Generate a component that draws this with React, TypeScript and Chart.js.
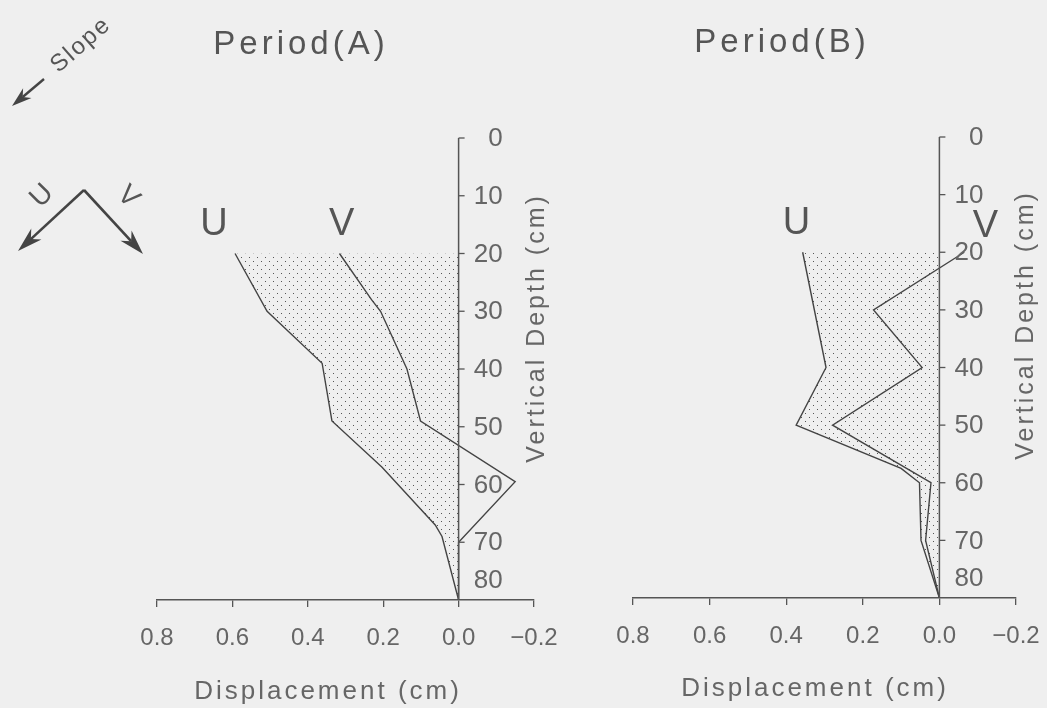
import React, { useEffect, useRef } from 'react';
import { Chart, registerables } from 'chart.js';

Chart.register(...registerables);

// ---------- data ----------
const depthTicks = [0, 10, 20, 30, 40, 50, 60, 70, 80];
const dispTicks = [0.8, 0.6, 0.4, 0.2, 0.0, -0.2];

// Period (A)
const uDepthA = [20, 30, 39, 49, 57, 67, 69, 80];
const uDispA = [0.593, 0.508, 0.362, 0.336, 0.203, 0.062, 0.044, 0];
const vDepthA = [20, 28, 30, 40, 49, 59.5, 70, 80];
const vDispA = [0.316, 0.231, 0.207, 0.137, 0.101, -0.15, 0, 0];

// Period (B)
const uDepthB = [20, 40, 50, 57.5, 60, 70, 80];
const uDispB = [0.357, 0.296, 0.374, 0.1, 0.052, 0.048, 0];
const vDepthB = [20, 30, 40, 50, 60, 70, 80];
const vDispB = [-0.065, 0.172, 0.045, 0.279, 0.022, 0.036, 0];

const W = 1047;
const H = 708;
const FONT = '"Liberation Sans", Arial, sans-serif';
const INK = '#444';
const TXT = '#666';

interface Panel {
  title: string;
  uDepth: number[];
  uDisp: number[];
  vDepth: number[];
  vDisp: number[];
  area: { left: number; right: number; top: number; bottom: number };
  titleX: number;
  titleY: number;
  xTitleX: number;
  xTitleY: number;
  yTitleDx: number;
  yTitleY: number;
  uLabel: { v: number; d: number };
  vLabel: { v: number; d: number };
  slope: boolean;
}

const panels: Panel[] = [
  {
    title: 'Period(A)',
    uDepth: uDepthA, uDisp: uDispA, vDepth: vDepthA, vDisp: vDispA,
    area: { left: 157, right: 534, top: 138, bottom: 600 },
    titleX: 301, titleY: 45,
    xTitleX: 328, xTitleY: 692,
    yTitleDx: 79, yTitleY: 328,
    uLabel: { v: 0.649, d: 15 },
    vLabel: { v: 0.31, d: 15 },
    slope: true,
  },
  {
    title: 'Period(B)',
    uDepth: uDepthB, uDisp: uDispB, vDepth: vDepthB, vDisp: vDispB,
    area: { left: 633, right: 1016, top: 137, bottom: 598 },
    titleX: 782, titleY: 43,
    xTitleX: 815, xTitleY: 689,
    yTitleDx: 87, yTitleY: 325,
    uLabel: { v: 0.373, d: 15 },
    vLabel: { v: -0.12, d: 15.5 },
    slope: false,
  },
];

function makeStipple(): CanvasPattern | string {
  const c = document.createElement('canvas');
  c.width = 8;
  c.height = 8;
  const g = c.getContext('2d');
  if (!g) return 'rgba(0,0,0,0.1)';
  g.fillStyle = '#555';
  g.fillRect(1, 1, 1, 1);
  g.fillRect(5, 5, 1, 1);
  return g.createPattern(c, 'repeat') || 'rgba(0,0,0,0.1)';
}

function drawArrow(ctx: CanvasRenderingContext2D, x1: number, y1: number, x2: number, y2: number, head: number, hw: number, lw: number) {
  const ang = Math.atan2(y2 - y1, x2 - x1);
  const bx = x2 - head * Math.cos(ang);
  const by = y2 - head * Math.sin(ang);
  ctx.beginPath();
  ctx.moveTo(x1, y1);
  ctx.lineTo(bx + head * 0.3 * Math.cos(ang), by + head * 0.3 * Math.sin(ang));
  ctx.lineWidth = lw;
  ctx.strokeStyle = INK;
  ctx.stroke();
  ctx.beginPath();
  ctx.moveTo(x2, y2);
  ctx.lineTo(bx + (hw / 2) * Math.sin(ang), by - (hw / 2) * Math.cos(ang));
  ctx.lineTo(bx + head * 0.3 * Math.cos(ang), by + head * 0.3 * Math.sin(ang));
  ctx.lineTo(bx - (hw / 2) * Math.sin(ang), by + (hw / 2) * Math.cos(ang));
  ctx.closePath();
  ctx.fillStyle = INK;
  ctx.fill();
}

function rotText(ctx: CanvasRenderingContext2D, s: string, x: number, y: number, ang: number, font: string, spacing: string) {
  ctx.save();
  ctx.translate(x, y);
  ctx.rotate(ang);
  ctx.font = font;
  (ctx as any).letterSpacing = spacing;
  ctx.textAlign = 'center';
  ctx.textBaseline = 'middle';
  ctx.fillText(s, 0, 0);
  ctx.restore();
}

function panelPlugin(p: Panel) {
  return {
    id: 'panelText',
    afterDraw(chart: Chart) {
      const ctx = chart.ctx;
      const xs = chart.scales.x;
      const ys = chart.scales.y;
      const x0 = xs.getPixelForValue(0);
      const yTop = ys.getPixelForValue(0);
      const yBot = ys.getPixelForValue(80);
      ctx.save();
      // vertical axis at displacement 0
      ctx.strokeStyle = '#555';
      ctx.lineWidth = 1.5;
      ctx.beginPath();
      ctx.moveTo(x0, yTop);
      ctx.lineTo(x0, yBot);
      ctx.stroke();
      ctx.lineWidth = 1.3;
      ctx.fillStyle = TXT;
      ctx.font = `26px ${FONT}`;
      ctx.textAlign = 'right';
      ctx.textBaseline = 'middle';
      depthTicks.forEach((d) => {
        const py = ys.getPixelForValue(d);
        if (d < 80) {
          ctx.beginPath();
          ctx.moveTo(x0, py);
          ctx.lineTo(x0 + 6, py);
          ctx.stroke();
        }
        ctx.fillText(String(d), x0 + 44, Math.min(py + 1, yBot - 19));
      });
      // axis titles
      ctx.fillStyle = TXT;
      rotText(ctx, 'Vertical Depth (cm)', x0 + p.yTitleDx, p.yTitleY, -Math.PI / 2, `25px ${FONT}`, '3px');
      rotText(ctx, 'Displacement (cm)', p.xTitleX, p.xTitleY, 0, `26px ${FONT}`, '3px');
      // panel title
      ctx.fillStyle = '#555';
      rotText(ctx, p.title, p.titleX, p.titleY, 0, `33px ${FONT}`, '4px');
      // U / V labels
      rotText(ctx, 'U', xs.getPixelForValue(p.uLabel.v), ys.getPixelForValue(p.uLabel.d), 0, `38px ${FONT}`, '0px');
      rotText(ctx, 'V', xs.getPixelForValue(p.vLabel.v), ys.getPixelForValue(p.vLabel.d), 0, `38px ${FONT}`, '0px');
      if (p.slope) {
        ctx.fillStyle = '#555';
        rotText(ctx, 'Slope', 81, 45, -0.72, `24px ${FONT}`, '2px');
        drawArrow(ctx, 44, 79, 12, 106, 20, 13, 2.4);
        drawArrow(ctx, 84, 190, 18, 251, 25, 15, 2.6);
        drawArrow(ctx, 84, 190, 143, 254, 25, 15, 2.6);
        ctx.fillStyle = '#555';
        rotText(ctx, 'U', 42, 196, -Math.PI / 4, `28px ${FONT}`, '0px');
        rotText(ctx, 'V', 128, 197, Math.PI / 4, `28px ${FONT}`, '0px');
      }
      ctx.restore();
    },
  };
}

function PanelChart({ p }: { p: Panel }) {
  const ref = useRef<HTMLCanvasElement | null>(null);
  useEffect(() => {
    if (!ref.current) return;
    const stipple = makeStipple();
    const chart = new Chart(ref.current, {
      type: 'line',
      data: {
        datasets: [
          {
            label: 'U',
            data: p.uDepth.map((d, i) => ({ x: p.uDisp[i], y: d })),
            borderColor: INK,
            borderWidth: 1.4,
            pointRadius: 0,
            tension: 0,
            fill: { value: 0 },
            backgroundColor: stipple as any,
          },
          {
            label: 'V',
            data: p.vDepth.map((d, i) => ({ x: p.vDisp[i], y: d })),
            borderColor: INK,
            borderWidth: 1.4,
            pointRadius: 0,
            tension: 0,
            fill: false,
          },
        ],
      },
      options: {
        animation: false,
        responsive: false,
        indexAxis: 'y',
        events: [],
        layout: {
          padding: {
            left: p.area.left,
            right: W - p.area.right,
            top: p.area.top,
            bottom: H - p.area.bottom - 50,
          },
        },
        scales: {
          x: {
            type: 'linear',
            reverse: true,
            min: -0.2,
            max: 0.8,
            afterBuildTicks: (s: any) => {
              s.ticks = dispTicks.map((v) => ({ value: v }));
            },
            afterFit: (s: any) => {
              s.height = 50;
              s.paddingLeft = 0;
              s.paddingRight = 0;
            },
            ticks: {
              autoSkip: false,
              maxRotation: 0,
              padding: 17,
              color: TXT,
              font: { family: FONT, size: 24 },
              callback: (v: any) => Number(v).toFixed(1).replace('-', '\u2212'),
            },
            grid: { drawOnChartArea: false, tickLength: 7, color: '#555', lineWidth: 1.3 },
            border: { color: '#555', width: 1.5 },
          },
          y: {
            type: 'linear',
            reverse: true,
            min: 0,
            max: 80,
            display: false,
          },
        },
        plugins: {
          legend: { display: false },
          tooltip: { enabled: false },
          filler: { drawTime: 'beforeDatasetsDraw' },
        },
      } as any,
      plugins: [panelPlugin(p)],
    });
    return () => chart.destroy();
  }, [p]);
  return (
    <canvas
      ref={ref}
      width={W}
      height={H}
      style={{ position: 'absolute', left: 0, top: 0, width: W, height: H }}
    />
  );
}

export default function App() {
  return (
    <div style={{ position: 'fixed', left: 0, top: 0, width: W, height: H, background: '#efefef', overflow: 'hidden' }}>
      {panels.map((p) => (
        <PanelChart key={p.title} p={p} />
      ))}
    </div>
  );
}
